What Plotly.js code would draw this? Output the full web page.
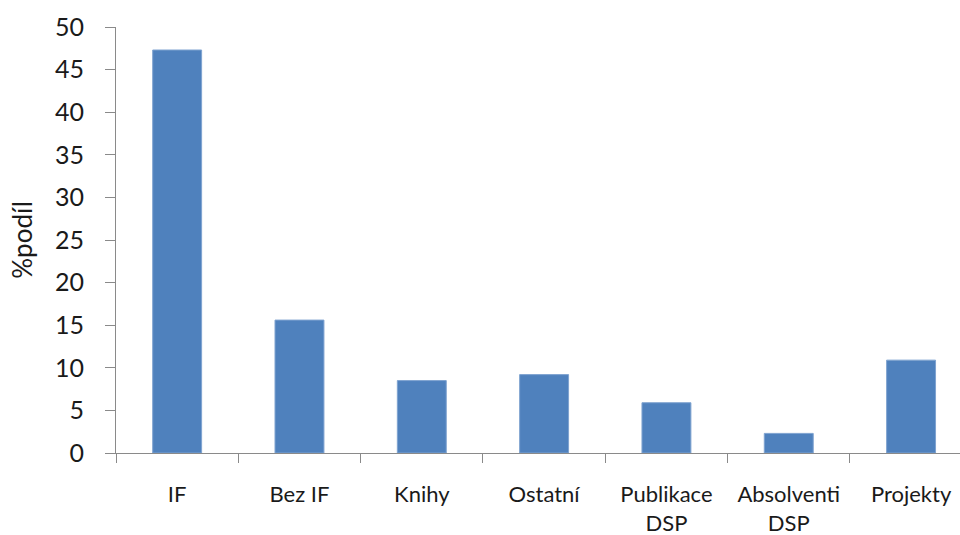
<!DOCTYPE html>
<html>
<head>
<meta charset="utf-8">
<script src="https://cdn.plot.ly/plotly-3.0.1.min.js"></script>
<style>html,body{margin:0;padding:0;background:#fff;}#chart{width:960px;height:535px;}</style>
</head>
<body>
<div id="chart"></div>
<script>
const categories = ["IF", "Bez IF", "Knihy", "Ostatní", "Publikace<br>DSP", "Absolventi<br>DSP", "Projekty"];
const shares = [47.3, 15.6, 8.5, 9.2, 5.9, 2.3, 10.9];
const yTickValues = [0, 5, 10, 15, 20, 25, 30, 35, 40, 45, 50];
const yTitle = "%podíl";

const font = "Lato, 'Open Sans', sans-serif";
Plotly.newPlot("chart", [{
  type: "bar",
  x: categories,
  y: shares,
  marker: {color: "#4F81BD", line: {color: "#7FA3D0", width: 1}},
  hoverinfo: "x+y"
}], {
  width: 960, height: 535,
  margin: {l: 116, r: 0, t: 27, b: 82},
  paper_bgcolor: "#fff", plot_bgcolor: "#fff",
  bargap: 0.6,
  showlegend: false,
  font: {family: font, color: "#1a1a1a"},
  xaxis: {
    type: "category",
    range: [-0.5, 6.4],
    showline: true, linecolor: "#8a8a8a", linewidth: 1,
    ticks: "outside", tickson: "boundaries", ticklen: 9, tickcolor: "#8a8a8a",
    showgrid: false, zeroline: false,
    tickfont: {size: 22, family: font},
    ticklabelstandoff: 22
  },
  yaxis: {
    range: [0, 50],
    tickvals: yTickValues,
    showline: true, linecolor: "#8a8a8a", linewidth: 1,
    ticks: "outside", ticklen: 10, tickcolor: "#8a8a8a",
    showgrid: false, zeroline: false,
    tickfont: {size: 25, family: font},
    ticklabelstandoff: 16,
    title: {text: yTitle, font: {size: 26, family: font}, standoff: 14}
  }
}, {displayModeBar: false, staticPlot: true});
</script>
</body>
</html>
